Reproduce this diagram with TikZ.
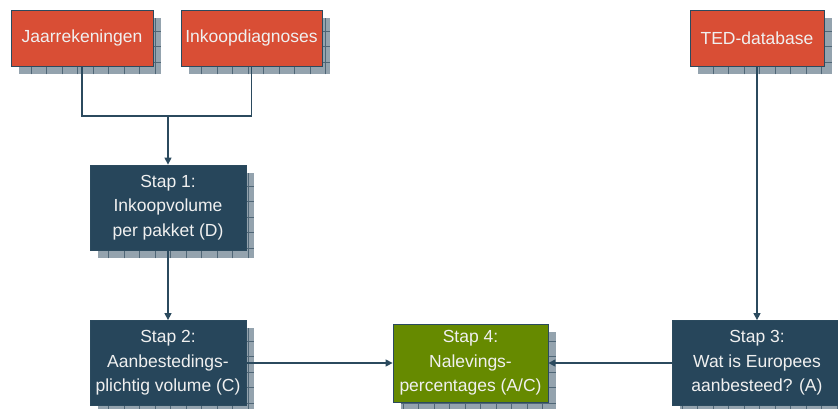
\documentclass[tikz,border=0pt]{standalone}
\usepackage{fontspec}
\setmainfont{Liberation Sans}
\usetikzlibrary{arrows.meta,backgrounds}
\definecolor{boxred}{HTML}{D94E35}
\definecolor{boxblue}{HTML}{27465B}
\definecolor{boxgreen}{HTML}{668A00}
\definecolor{shadowgray}{HTML}{94A3AE}
\definecolor{gridblue}{HTML}{4F6676}
\definecolor{linkblue}{HTML}{2B4A5E}
\tikzstyle{every node}=[draw=linkblue, line width=0.8pt, text=white!94!black, align=center, inner sep=0pt, font=\fontsize{17.5}{24.5}\selectfont]
\tikzstyle{srcbox}=[fill=boxred, minimum height=56pt]
\tikzstyle{stepbox}=[fill=boxblue, minimum height=85pt]
\tikzstyle{endbox}=[fill=boxgreen, minimum height=78pt, minimum width=155pt]
\tikzset{link/.style={draw=linkblue, line width=1.3pt},
  feed/.style={link, -{Triangle[width=7pt,length=7pt]}}}

\begin{document}
\begin{tikzpicture}[x=1pt,y=-1pt]
    \useasboundingbox (0,0) rectangle (838,408);
    % bronnen
    \node[srcbox, minimum width=142pt] (jaar) at (82,38) {Jaarrekeningen};
    \node[srcbox, minimum width=141pt] (inkoop) at (251.5,38) {Inkoopdiagnoses};
    \node[srcbox, minimum width=134pt] (ted) at (757,38) {TED-database};
    % stappen
    \node[stepbox, minimum width=156pt] (stap1) at (168,207.5) {Stap 1:\\Inkoopvolume\\per pakket (D)};
    \node[stepbox, minimum width=156pt] (stap2) at (168,363) {Stap 2:\\Aanbestedings-\\plichtig volume (C)};
    \node[stepbox, minimum width=170pt] (stap3) at (757,363) {Stap 3:\\Wat is Europees\\aanbesteed? (A)};
    \node[endbox] (stap4) at (470.5,363) {Stap 4:\\Nalevings-\\percentages (A/C)};
    % schaduw met raster
    \begin{scope}[on background layer]
      \foreach \n in {jaar,inkoop,ted,stap1,stap2,stap3,stap4}{
        \begin{scope}
          \clip ([shift={(8,8)}]\n.north west) rectangle ([shift={(8,8)}]\n.south east);
          \fill[shadowgray] ([shift={(8,8)}]\n.north west) rectangle ([shift={(8,8)}]\n.south east);
          \draw[gridblue, line width=0.6pt, step=15.5pt] ([shift={(8,8)}]\n.north west) grid ([shift={(8,8)}]\n.south east);
        \end{scope}
      }
    \end{scope}
    % verbindingen
    \coordinate (split) at (stap1.north |- 0,116);
    \draw[link] (jaar.south) |- (split) -| (inkoop.south);
    \draw[feed] (split) -- (stap1.north);
    \draw[feed] (stap1.south) -- (stap2.north);
    \draw[feed] (ted.south) -- (stap3.north);
    \draw[feed] (stap2.east) -- (stap4.west);
    \draw[feed] (stap3.west) -- (stap4.east);
  \end{tikzpicture}
\end{document}
